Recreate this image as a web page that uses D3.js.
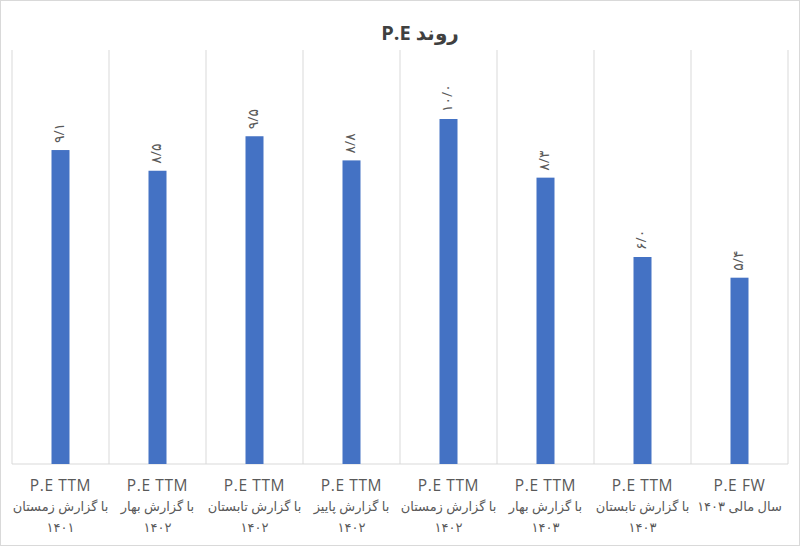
<!DOCTYPE html>
<html>
<head>
<meta charset="utf-8">
<script src="https://cdn.jsdelivr.net/npm/d3@7"></script>
<style>
  body { margin: 0; background: #fff; }
  svg { display: block; }
  text { font-family: "Open Sans", "DejaVu Sans", sans-serif; }
</style>
</head>
<body>
<svg id="chart" width="800" height="546"></svg>
<script>
const title = "روند P.E";
const categoryTop = ["P.E TTM", "P.E TTM", "P.E TTM", "P.E TTM", "P.E TTM", "P.E TTM", "P.E TTM", "P.E FW"];
const categoryMid = ["با گزارش زمستان", "با گزارش بهار", "با گزارش تابستان", "با گزارش پاییز", "با گزارش زمستان", "با گزارش بهار", "با گزارش تابستان", "سال مالی ۱۴۰۳"];
const categoryBottom = ["۱۴۰۱", "۱۴۰۲", "۱۴۰۲", "۱۴۰۲", "۱۴۰۲", "۱۴۰۳", "۱۴۰۳", ""];
const values = [9.1, 8.5, 9.5, 8.8, 10.0, 8.3, 6.0, 5.4];
const yMax = 12;

const svg = d3.select("#chart");
const W = 800, H = 546;
const pLeft = 12, pRight = 788, pTop = 50, pBottom = 464;

svg.append("rect").attr("x", 0.5).attr("y", 0.5).attr("width", W - 1).attr("height", H - 1)
  .attr("fill", "#fff").attr("stroke", "#d9d9d9");

const idx = values.map((d, i) => i);
const x = d3.scaleBand().domain(idx).range([pLeft, pRight]).paddingInner(0).paddingOuter(0);
const y = d3.scaleLinear().domain([0, yMax]).range([pBottom, pTop]);

// category separator gridlines
const bounds = idx.map(i => x(i)).concat([pRight]);
svg.append("g").selectAll("line").data(bounds).join("line")
  .attr("x1", d => d).attr("x2", d => d)
  .attr("y1", pTop).attr("y2", pBottom)
  .attr("stroke", "#d9d9d9").attr("stroke-width", 1);

// baseline
svg.append("line").attr("x1", pLeft).attr("x2", pRight).attr("y1", pBottom).attr("y2", pBottom)
  .attr("stroke", "#d9d9d9").attr("stroke-width", 1);

const barW = 18;
svg.append("g").selectAll("rect").data(values).join("rect")
  .attr("x", (d, i) => x(i) + x.bandwidth() / 2 - barW / 2)
  .attr("width", barW)
  .attr("y", d => y(d))
  .attr("height", d => y(0) - y(d))
  .attr("fill", "#4472C4");

const fa = s => s.replace(/[0-9]/g, c => "۰۱۲۳۴۵۶۷۸۹"[+c]);
const fmt = d => fa(d.toFixed(1)).replace(".", "/");

svg.append("g").selectAll("text").data(values).join("text")
  .attr("transform", (d, i) => `translate(${x(i) + x.bandwidth() / 2},${y(d) - 7}) rotate(-90)`)
  .attr("text-anchor", "start")
  .attr("dominant-baseline", "middle")
  .attr("direction", "ltr")
  .attr("font-size", 14)
  .attr("letter-spacing", 2)
  .attr("fill", "#595959")
  .text(d => fmt(d));

// category labels
const cg = svg.append("g").attr("fill", "#595959").attr("text-anchor", "middle");
cg.selectAll("text.l1").data(categoryTop).join("text").attr("class", "l1")
  .attr("x", (d, i) => x(i) + x.bandwidth() / 2).attr("y", 491)
  .attr("font-size", 15.5).attr("letter-spacing", 0.6).text(d => d);
cg.selectAll("text.l2").data(categoryMid).join("text").attr("class", "l2")
  .attr("x", (d, i) => x(i) + x.bandwidth() / 2).attr("y", 511)
  .attr("direction", "rtl").attr("font-size", 13).text(d => d);
cg.selectAll("text.l3").data(categoryBottom).join("text").attr("class", "l3")
  .attr("x", (d, i) => x(i) + x.bandwidth() / 2).attr("y", 532)
  .attr("direction", "rtl").attr("font-size", 13).attr("letter-spacing", 1).text(d => d);

svg.append("text").attr("x", 420).attr("y", 40)
  .attr("text-anchor", "middle").attr("direction", "rtl")
  .attr("font-size", 20).attr("font-weight", "bold").attr("fill", "#404040")
  .text(title);
</script>
</body>
</html>
